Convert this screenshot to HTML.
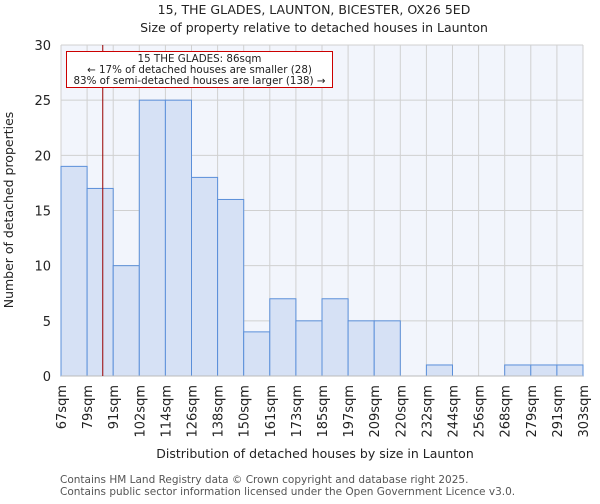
<!DOCTYPE html>
<html><head><meta charset="utf-8"><style>
body{margin:0;background:#fff;font-family:"DejaVu Sans","Liberation Sans",sans-serif}
svg text{font-family:"DejaVu Sans","Liberation Sans",sans-serif}
</style></head><body>
<svg id="c" width="600" height="500" xmlns="http://www.w3.org/2000/svg">
<text x="314" y="14" text-anchor="middle" font-size="12.5" fill="#222">15, THE GLADES, LAUNTON, BICESTER, OX26 5ED</text>
<text x="314" y="32" text-anchor="middle" font-size="12.5" fill="#222">Size of property relative to detached houses in Launton</text>
<g id="plot"></g>
<text x="315" y="458" text-anchor="middle" font-size="12.5" fill="#222">Distribution of detached houses by size in Launton</text>
<text transform="translate(13,210) rotate(-90)" text-anchor="middle" font-size="12.5" fill="#222">Number of detached properties</text>
<text x="60" y="483" font-size="10.5" fill="#555">Contains HM Land Registry data © Crown copyright and database right 2025.</text>
<text x="60" y="495" font-size="10.5" fill="#555">Contains public sector information licensed under the Open Government Licence v3.0.</text>
</svg>
<script>
const categories=["67sqm","79sqm","91sqm","102sqm","114sqm","126sqm","138sqm","150sqm","161sqm","173sqm","185sqm","197sqm","209sqm","220sqm","232sqm","244sqm","256sqm","268sqm","279sqm","291sqm","303sqm"];
const counts=[19,17,10,25,25,18,16,4,7,5,7,5,5,0,1,0,0,1,1,1];
const yTicks=[0,5,10,15,20,25,30];
const markerValue=1.6;
const NS="http://www.w3.org/2000/svg";
const g=document.getElementById("plot");
const L=61,R=583,T=45,B=376,yMax=30;
const bw=(R-L)/counts.length;
const xs=i=>L+i*bw;
const ys=v=>B-(B-T)*v/yMax;
function mk(t,a){const e=document.createElementNS(NS,t);for(const k in a)e.setAttribute(k,a[k]);g.appendChild(e);return e;}
let bg=mk("rect",{x:L,y:T,width:R-L,height:B-T,fill:"#f2f5fc"});


yTicks.forEach(v=>{let l=mk("line",{x1:L,x2:R,y1:ys(v),y2:ys(v),stroke:"#d0d0d0","stroke-width":1});


let t=mk("text",{x:L-10,y:ys(v)+5,"text-anchor":"end","font-size":13,fill:"#222"});t.textContent=v;

});
categories.forEach((c,i)=>{let l=mk("line",{x1:xs(i),x2:xs(i),y1:T,y2:B,stroke:"#d0d0d0","stroke-width":1});


let x=xs(i),y=385;let t=mk("text",{x:x+5,y:y,"text-anchor":"end","font-size":13,fill:"#222",transform:`rotate(-90 ${x+5} ${y})`});t.textContent=c;

});
counts.forEach((v,i)=>{if(v<=0)return;let r=mk("rect",{x:xs(i),y:ys(v),width:bw,height:B-ys(v),fill:"#d6e1f5",stroke:"#5b8fd9","stroke-width":1});

});
let ax=mk("line",{x1:L,x2:R,y1:B,y2:B,stroke:"#bbb"});


let ml=mk("line",{x1:xs(markerValue),x2:xs(markerValue),y1:T,y2:B,stroke:"#990000","stroke-width":1});


let box=mk("rect",{x:66.5,y:51.5,width:266,height:36,fill:"#fff",stroke:"#cc0000","stroke-width":1});


["15 THE GLADES: 86sqm","← 17% of detached houses are smaller (28)","83% of semi-detached houses are larger (138) →"].forEach((s,i)=>{let t=mk("text",{x:199.5,y:62+i*11,"text-anchor":"middle","font-size":10.3,fill:"#222"});t.textContent=s;

});
</script>
</body></html>
